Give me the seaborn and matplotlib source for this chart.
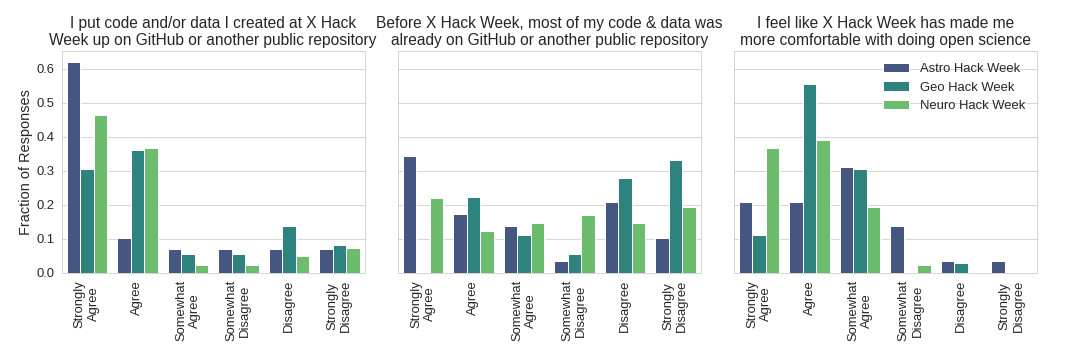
import matplotlib
matplotlib.use("Agg")
import matplotlib.pyplot as plt
import seaborn as sns
import pandas as pd

# response categories (x axis) and the three hack weeks (hue)
responses = ["Strongly\nAgree", "Agree", "Somewhat\nAgree",
             "Somewhat\nDisagree", "Disagree", "Strongly\nDisagree"]
weeks = ["Astro Hack Week", "Geo Hack Week", "Neuro Hack Week"]

titles = [
    "I put code and/or data I created at X Hack\nWeek up on GitHub or another public repository",
    "Before X Hack Week, most of my code & data was\nalready on GitHub or another public repository",
    "I feel like X Hack Week has made me\nmore comfortable with doing open science",
]

# fraction of responses, one list per week per question
q1_astro = [0.621, 0.103, 0.069, 0.069, 0.069, 0.069]
q1_geo = [0.306, 0.361, 0.056, 0.056, 0.139, 0.083]
q1_neuro = [0.463, 0.366, 0.024, 0.024, 0.049, 0.073]

q2_astro = [0.345, 0.172, 0.138, 0.034, 0.207, 0.103]
q2_geo = [0.0, 0.222, 0.111, 0.056, 0.278, 0.333]
q2_neuro = [0.220, 0.122, 0.146, 0.171, 0.146, 0.195]

q3_astro = [0.207, 0.207, 0.310, 0.138, 0.034, 0.034]
q3_geo = [0.111, 0.556, 0.306, 0.0, 0.028, 0.0]
q3_neuro = [0.366, 0.390, 0.195, 0.024, 0.0, 0.0]

questions = [
    (q1_astro, q1_geo, q1_neuro),
    (q2_astro, q2_geo, q2_neuro),
    (q3_astro, q3_geo, q3_neuro),
]


def long_frame(series):
    rows = []
    for week, vals in zip(weeks, series):
        for resp, v in zip(responses, vals):
            rows.append({"response": resp, "week": week, "fraction": v})
    return pd.DataFrame(rows)


sns.set_style("whitegrid")
plt.rcParams["font.family"] = ["Liberation Sans", "DejaVu Sans"]

fig, axes = plt.subplots(1, 3, figsize=(15, 5), dpi=72, sharey=True)
for i, (ax, series, title) in enumerate(zip(axes, questions, titles)):
    df = long_frame(series)
    sns.barplot(data=df, x="response", y="fraction", hue="week",
                order=responses, hue_order=weeks, palette="viridis", ax=ax)
    ax.set_title(title, fontsize=15.5)
    ax.set_xlabel("")
    ax.set_ylabel("Fraction of Responses" if i == 0 else "", fontsize=14.5)
    ax.tick_params(axis="x", labelrotation=90, labelsize=13)
    ax.tick_params(axis="y", labelsize=13)
    if i == 2:
        ax.legend(loc="upper right", frameon=False, fontsize=13)
    else:
        ax.get_legend().remove()

fig.subplots_adjust(left=0.057, right=0.960, top=0.858, bottom=0.242, wspace=0.109)
fig.savefig("out.png", dpi=72)
